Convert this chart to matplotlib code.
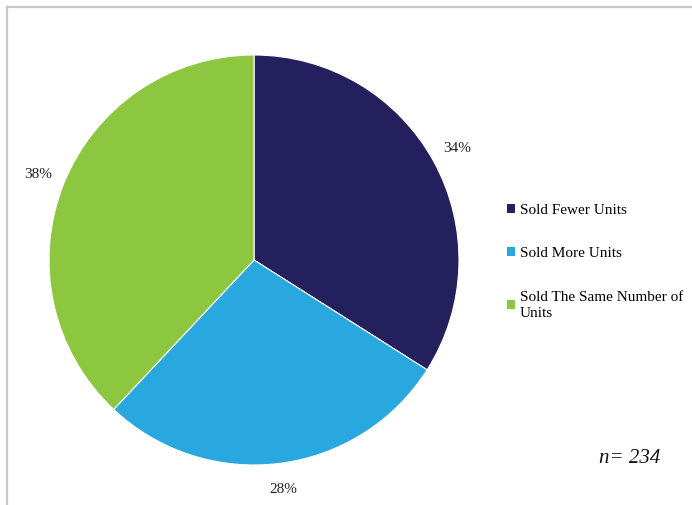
import matplotlib
matplotlib.use('Agg')
import matplotlib.pyplot as plt
from matplotlib.patches import Patch
from matplotlib.lines import Line2D

categories = ['Sold Fewer Units', 'Sold More Units', 'Sold The Same Number of\nUnits']
shares = [34, 28, 38]
colors = ['#24205E', '#29A8E0', '#8DC63F']
sample_note = 'n= 234'

W, H = 692, 505
fig = plt.figure(figsize=(W / 100, H / 100), dpi=100)
plt.rcParams['font.family'] = ['Liberation Serif', 'DejaVu Serif']

# pie axes: centre (254, 260), radius 205 px
cx, cy, r = 254, 260, 205
ax = fig.add_axes([(cx - r) / W, (H - cy - r) / H, 2 * r / W, 2 * r / H])
wedges, _, autotexts = ax.pie(shares, colors=colors, startangle=90, counterclock=False,
                              autopct='%d%%', pctdistance=1.13, radius=1,
                              wedgeprops=dict(edgecolor='white', linewidth=0.8))
for t in autotexts:
    t.set_fontsize(11)
    t.set_color('#222222')
ax.set_xlim(-1, 1)
ax.set_ylim(-1, 1)
ax.set_aspect('equal')
ax.axis('off')

handles = [Patch(facecolor=c, edgecolor='none') for c in colors]
leg = fig.legend(handles, categories, loc='upper left',
                 bbox_to_anchor=(499 / W, 1 - 196 / H), frameon=False,
                 fontsize=11, handlelength=0.55, handleheight=0.55,
                 handletextpad=0.3, labelspacing=2.0, borderpad=0)
for t in leg.get_texts():
    t.set_linespacing(1.3)

fig.text(599 / W, 1 - 463 / H, sample_note, fontsize=15, style='italic', color='#111111')

# outer frame (top and left edges visible)
fig.add_artist(Line2D([6.5 / W, 6.5 / W], [0, 1 - 6.5 / H], transform=fig.transFigure,
                      color='#c8c8c8', linewidth=1.6))
fig.add_artist(Line2D([6.5 / W, 1], [1 - 6.5 / H, 1 - 6.5 / H], transform=fig.transFigure,
                      color='#c8c8c8', linewidth=1.6))

fig.savefig('out.png', dpi=100)
